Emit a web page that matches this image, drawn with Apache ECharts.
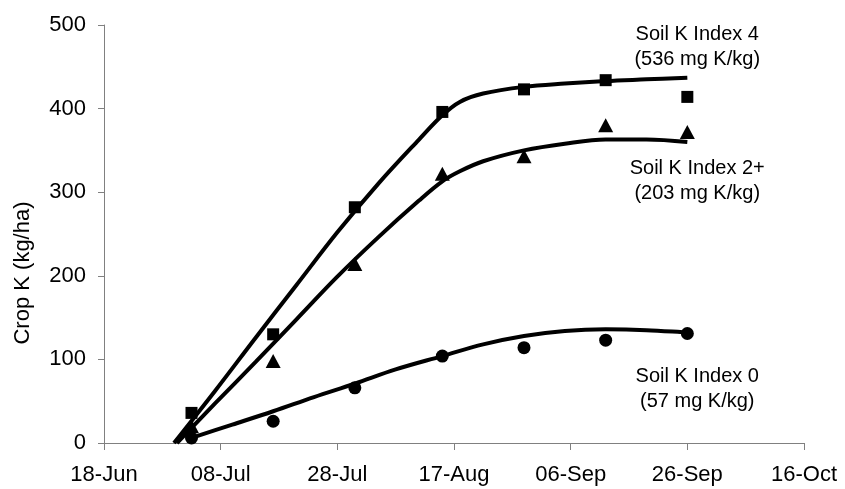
<!DOCTYPE html>
<html>
<head>
<meta charset="utf-8">
<script src="https://cdn.jsdelivr.net/npm/echarts@6/dist/echarts.min.js"></script>
<style>
  html, body { margin: 0; padding: 0; background: #fff; }
  #chart { width: 845px; height: 489px; }
</style>
</head>
<body>
<div id="chart"></div>
<script>
// Days are counted from 18-Jun (day 0).
const tickLabels = ['18-Jun', '08-Jul', '28-Jul', '17-Aug', '06-Sep', '26-Sep', '16-Oct'];
const sampleDays = [15, 29, 43, 58, 72, 86, 100];

// Measured crop K uptake (kg/ha)
const kIndex4 = [36, 130, 282, 396, 423, 434, 414];
const kIndex2 = [20, 98, 214, 322, 343, 380, 372];
const kIndex0 = [6, 26, 66, 104, 114, 123, 131];

// Fitted uptake curves
const fitDays4 = [12, 19, 26, 33, 40, 47, 54, 58, 61, 65, 72, 79, 86, 93, 100];
const fit4 = [0, 62, 126, 189, 252, 310, 363, 392, 408, 418, 426, 430, 433, 435, 437];
const fitDays2 = [12.5, 19, 26, 33, 40, 47, 54, 58, 61, 65, 72, 79, 86, 93, 100];
const fit2 = [0, 47, 97, 148, 199, 246, 290, 313, 325, 337, 350, 358, 363, 363, 360];
const fitDays0 = [14.5, 22, 29, 36, 43, 50, 58, 65, 72, 79, 86, 93, 100];
const fit0 = [5, 22, 38, 55, 71, 88, 104, 118, 128, 134, 136, 135, 132];

// Curve labels
const curveNames = ['Soil K Index 4', 'Soil K Index 2+', 'Soil K Index 0'];
const soilK = ['(536 mg K/kg)', '(203 mg K/kg)', '(57 mg K/kg)'];
// where each label block is centred, in axis units
const labelAt = [[101.7, 474], [101.7, 314], [101.7, 65]];

const zip = (xs, ys) => xs.map((x, i) => [x, ys[i]]);
const FONT = 'Liberation Sans, Arial, sans-serif';

const chart = echarts.init(document.getElementById('chart'), null, { renderer: 'canvas' });

const lineStyle = { color: '#000', width: 4 };
const fitLine = (name, xs, ys) => ({
  name, type: 'line', data: zip(xs, ys), showSymbol: false, symbol: 'none',
  smooth: 0.35, lineStyle, z: 2, silent: true
});
const points = (name, ys, symbol, size) => ({
  name, type: 'scatter', data: zip(sampleDays, ys), symbol, symbolSize: size,
  itemStyle: { color: '#000', opacity: 1 }, z: 3, silent: true
});

chart.setOption({
  animation: false,
  backgroundColor: '#fff',
  grid: { left: 104, right: 41, top: 25, bottom: 46, containLabel: false },
  xAxis: {
    type: 'value', min: 0, max: 120, interval: 20,
    axisLine: { show: true, lineStyle: { color: '#808080', width: 1 } },
    axisTick: { show: true, inside: false, length: 7, lineStyle: { color: '#808080' } },
    splitLine: { show: false },
    axisLabel: {
      color: '#000', fontFamily: FONT, fontSize: 22, margin: 21,
      formatter: v => tickLabels[Math.round(v / 20)] || ''
    }
  },
  yAxis: {
    type: 'value', min: 0, max: 500, interval: 100,
    name: 'Crop K (kg/ha)', nameLocation: 'middle', nameGap: 70, nameRotate: 90,
    nameTextStyle: { color: '#000', fontFamily: FONT, fontSize: 22, padding: [0, 78, 0, 0] },
    axisLine: { show: true, lineStyle: { color: '#808080', width: 1 } },
    axisTick: { show: true, inside: false, length: 6, lineStyle: { color: '#808080' } },
    splitLine: { show: false },
    axisLabel: { color: '#000', fontFamily: FONT, fontSize: 22, margin: 18 }
  },
  series: [
    fitLine('fit4', fitDays4, fit4),
    fitLine('fit2', fitDays2, fit2),
    fitLine('fit0', fitDays0, fit0),
    points('Soil K Index 4', kIndex4, 'rect', 12),
    points('Soil K Index 2+', kIndex2, 'triangle', [15, 14]),
    points('Soil K Index 0', kIndex0, 'circle', 13),
    {
      name: 'labels', type: 'scatter', symbolSize: 0, silent: true,
      itemStyle: { opacity: 1 },
      data: labelAt.map((p, i) => ({ value: p, name: curveNames[i] + '\n' + soilK[i] })),
      label: {
        show: true, position: 'inside', formatter: p => p.name,
        color: '#000', fontFamily: FONT, fontSize: 20, lineHeight: 25, align: 'center'
      }
    }
  ]
});
</script>
</body>
</html>
